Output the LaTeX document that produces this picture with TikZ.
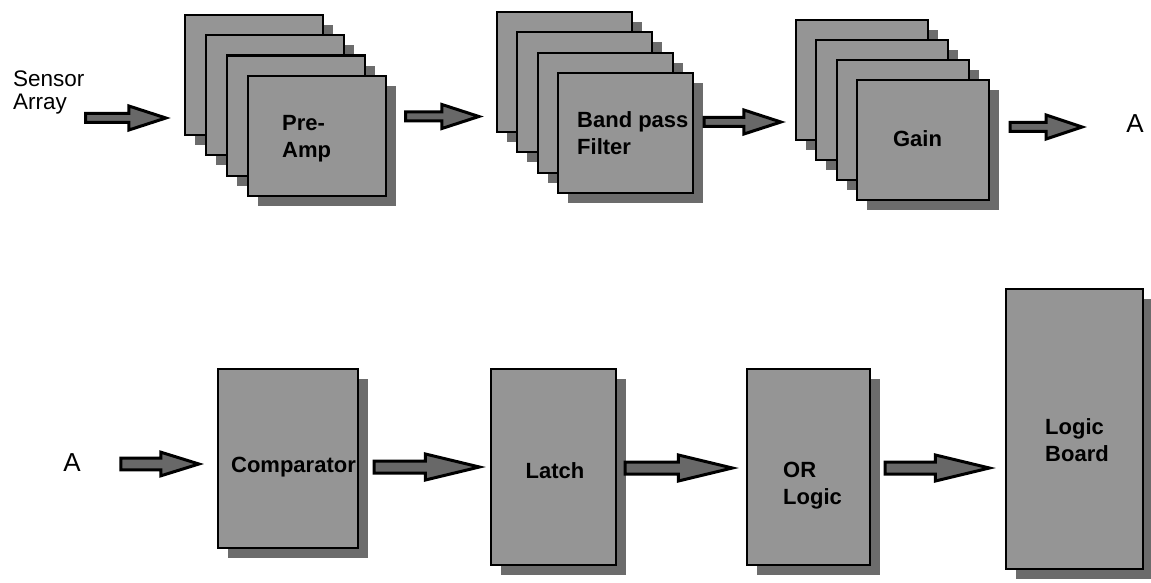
\documentclass[tikz,border=0pt]{standalone}
\usepackage{fontspec}
\setmainfont{Liberation Sans}
\usetikzlibrary{shadows,calc}

\definecolor{boxfill}{HTML}{959595}
\definecolor{shadefill}{HTML}{6C6C6C}
\definecolor{arrowfill}{HTML}{686868}

\tikzset{
  panel/.style={rectangle, draw=black, line width=2.2pt, fill=boxfill, inner sep=0pt,
    drop shadow={shadow xshift=10pt, shadow yshift=-10pt, opacity=1, fill=shadefill}},
  boxtext/.style={font=\bfseries\fontsize{22}{27}\selectfont, inner sep=0pt, align=left},
  plaintext/.style={font=\fontsize{22.5}{23}\selectfont, inner sep=0pt, align=left},
  bigletter/.style={font=\fontsize{26}{26}\selectfont, inner sep=0pt},
  blockarrow/.style={draw=black, line width=3pt, fill=arrowfill, line join=miter},
}

% block arrow: #1 start, #2 tip, #3 row y, #4 shaft half-height, #5 head half-height, #6 head length
\newcommand\flowarrow[6]{%
  \path[blockarrow] let \p1=(#1), \p2=(#2) in
    (\x1,{-(#3-#4)*1pt}) -- ({\x2-#6pt},{-(#3-#4)*1pt}) -- ({\x2-#6pt},{-(#3-#5)*1pt})
    -- (\x2,{-#3pt}) -- ({\x2-#6pt},{-(#3+#5)*1pt}) -- ({\x2-#6pt},{-(#3+#4)*1pt})
    -- (\x1,{-(#3+#4)*1pt}) -- cycle;}

\begin{document}
\begin{tikzpicture}[x=1pt, y=-1pt]
\useasboundingbox[fill=white] (0,0) rectangle (1151,583);

% ---- first row: stacked channel boards ----
\foreach \i in {1,...,4}{
  \node[panel, minimum width=138pt, minimum height=120pt]
    (pa\i) at ({254+21*(\i-1)}, {75+20.3*(\i-1)}) {};
}
\foreach \i in {1,...,4}{
  \node[panel, minimum width=135pt, minimum height=120pt]
    (bp\i) at ({564.5+20.33*(\i-1)}, {72+20.33*(\i-1)}) {};
}
\foreach \i in {1,...,4}{
  \node[panel, minimum width=132pt, minimum height=120pt]
    (g\i) at ({862+20.33*(\i-1)}, {80+20*(\i-1)}) {};
}

\node[plaintext, anchor=west] (sensor) at (13,92) {Sensor\\Array};
\node[boxtext, anchor=west] (preampT) at (282,139) {Pre-\\Amp};
\node[boxtext, anchor=west] (bandT) at (577,133.5) {Band pass\\Filter};
\node[boxtext] (gainT) at (917.5,139) {Gain};
\node[bigletter] (atop) at (1135,124) {A};

% ---- second row ----
\node[panel, minimum width=140pt, minimum height=179pt] (comp) at (288,458.5) {};
\node[panel, minimum width=125pt, minimum height=196pt] (latch) at (553.5,467) {};
\node[panel, minimum width=123pt, minimum height=196pt] (orl) at (808.5,467) {};
\node[panel, minimum width=137pt, minimum height=280pt] (lb) at (1074.5,429) {};

\node[bigletter] (abot) at (72,463) {A};
\node[boxtext] (compT) at (293.5,467) {Comparator};
\node[boxtext] (latchT) at (555,471) {Latch};
\node[boxtext, anchor=west] (orT) at (783,486) {OR\\Logic};
\node[boxtext, anchor=west] (lbT) at (1045,440.5) {Logic\\Board};

% ---- signal flow ----
\flowarrow{[xshift=1pt]sensor.east}{[xshift=-18pt]pa1.west}{118}{4.5}{12}{37}
\flowarrow{[xshift=18.5pt]pa4.east}{[xshift=-17pt]bp1.west}{116.5}{4.5}{12}{37}
\flowarrow{[xshift=10pt]bp4.east}{[xshift=-14pt]g1.west}{122}{4.5}{12}{37}
\flowarrow{[xshift=20pt]g4.east}{[xshift=-44pt]atop.west}{127}{4.5}{12}{36}

\flowarrow{[xshift=40pt]abot.east}{[xshift=-18pt]comp.west}{464}{5.8}{11.8}{38}
\flowarrow{[xshift=15pt]comp.east}{[xshift=-10.5pt]latch.west}{467}{6}{13}{54}
\flowarrow{[xshift=8pt]latch.east}{[xshift=-13.5pt]orl.west}{468}{6}{13}{54}
\flowarrow{[xshift=14pt]orl.east}{[xshift=-15.5pt]lb.west}{468}{6}{13}{54}
\end{tikzpicture}
\end{document}
